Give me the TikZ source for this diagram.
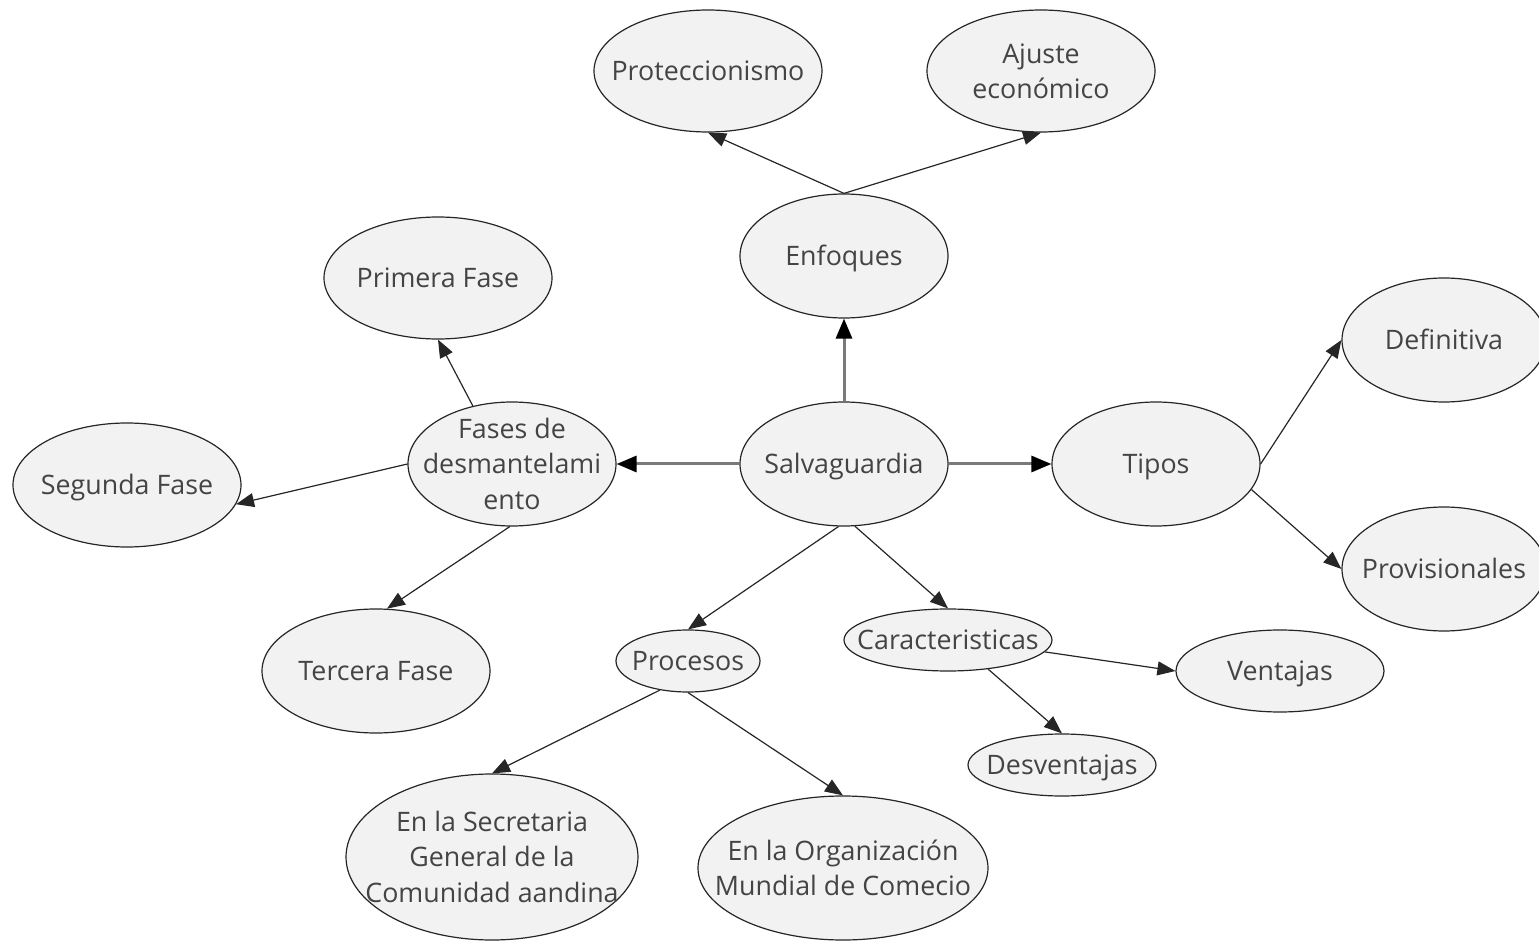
\documentclass[tikz,border=0pt]{standalone}
\usepackage{fontspec}
\setmainfont{Open Sans}
\usetikzlibrary{shapes.geometric,arrows.meta}
\definecolor{txtgray}{HTML}{444444}
\definecolor{bubblefill}{HTML}{F2F2F2}
\definecolor{thickgray}{HTML}{7A7A7A}
% text that does not stretch the ellipse
\newcommand{\bubtext}[1]{\smash{\makebox[0pt]{\raisebox{-5pt}{\begin{tabular}{@{}c@{}}#1\end{tabular}}}}}
\tikzset{
  bubble/.style={ellipse, draw=black!85, line width=0.6pt, fill=bubblefill, inner sep=0pt,
    text=txtgray, font=\fontsize{13.4}{17.75}\selectfont},
  mainlink/.style={draw=thickgray, line width=1.5pt, -{Triangle[length=10pt,width=8pt,color=black]}},
  sublink/.style={draw=black!85, line width=0.6pt, -{Triangle[length=9pt,width=7pt]}}
}
\begin{document}
\begin{tikzpicture}[x=0.5pt, y=-0.5pt]
    \useasboundingbox (0,0) rectangle (1539,941);

            % Center and first ring
            \node[bubble, minimum width=104pt, minimum height=62pt] (salv) at (844,464) {\bubtext{Salvaguardia}};
            \node[bubble, minimum width=104pt, minimum height=62pt] (enf) at (844,256) {\bubtext{Enfoques}};
            \node[bubble, minimum width=104pt, minimum height=62pt] (fases) at (512,464) {\bubtext{Fases de\\desmantelami\\ento}};
            \node[bubble, minimum width=104pt, minimum height=62pt] (tipos) at (1156,464) {\bubtext{Tipos}};
            \node[bubble, minimum width=72pt, minimum height=31pt] (proc) at (688,661) {\bubtext{Procesos}};
            \node[bubble, minimum width=104pt, minimum height=31pt] (car) at (948,640) {\bubtext{Caracteristicas}};

            % Enfoques
            \node[bubble, minimum width=114pt, minimum height=61pt] (prot) at (708,71) {\bubtext{Proteccionismo}};
            \node[bubble, minimum width=114pt, minimum height=61pt] (ajus) at (1041,71) {\bubtext{Ajuste\\económico}};

            % Fases
            \node[bubble, minimum width=114pt, minimum height=61pt] (prim) at (438,278) {\bubtext{Primera Fase}};
            \node[bubble, minimum width=114pt, minimum height=62pt] (seg) at (127,485) {\bubtext{Segunda Fase}};
            \node[bubble, minimum width=114pt, minimum height=62pt] (terc) at (376,671) {\bubtext{Tercera Fase}};

            % Tipos
            \node[bubble, minimum width=102pt, minimum height=62pt] (def) at (1444,340) {\bubtext{Definitiva}};
            \node[bubble, minimum width=102pt, minimum height=62pt] (prov) at (1444,569) {\bubtext{Provisionales}};

            % Caracteristicas
            \node[bubble, minimum width=104pt, minimum height=41pt] (vent) at (1280,671) {\bubtext{Ventajas}};
            \node[bubble, minimum width=94pt, minimum height=31pt] (desv) at (1062,765) {\bubtext{Desventajas}};

            % Procesos
            \node[bubble, minimum width=146pt, minimum height=83pt] (secg) at (492,857) {\bubtext{En la Secretaria\\General de la\\Comunidad aandina}};
            \node[bubble, minimum width=145pt, minimum height=72pt] (omc) at (843,868) {\bubtext{En la Organización\\Mundial de Comecio}};


    % Main links out of the center
    \draw[mainlink] (salv.north) -- (enf.south);
    \draw[mainlink] (salv.west) -- (fases.east);
    \draw[mainlink] (salv.east) -- (tipos.west);
    \draw[sublink] (salv.-95) -- (proc.north);
    \draw[sublink] (salv.-80) -- (car.north);

    \draw[sublink] (enf.north) -- (prot.south);
    \draw[sublink] (enf.north) -- (ajus.south);

    \draw[sublink] (fases.124) -- (prim.south);
    \draw[sublink] (fases.west) -- (seg.-10);
    \draw[sublink] (fases.-92) -- (terc.80);

    \draw[sublink] (tipos.east) -- (def.west);
    \draw[sublink] (tipos.-15) -- (prov.west);

    \draw[sublink] (car.-7) -- (vent.west);
    \draw[sublink] (car.-36) -- (desv.north);

    \draw[sublink] (proc.-134) -- (secg.north);
    \draw[sublink] (proc.south) -- (omc.north);

        \end{tikzpicture}
\end{document}
